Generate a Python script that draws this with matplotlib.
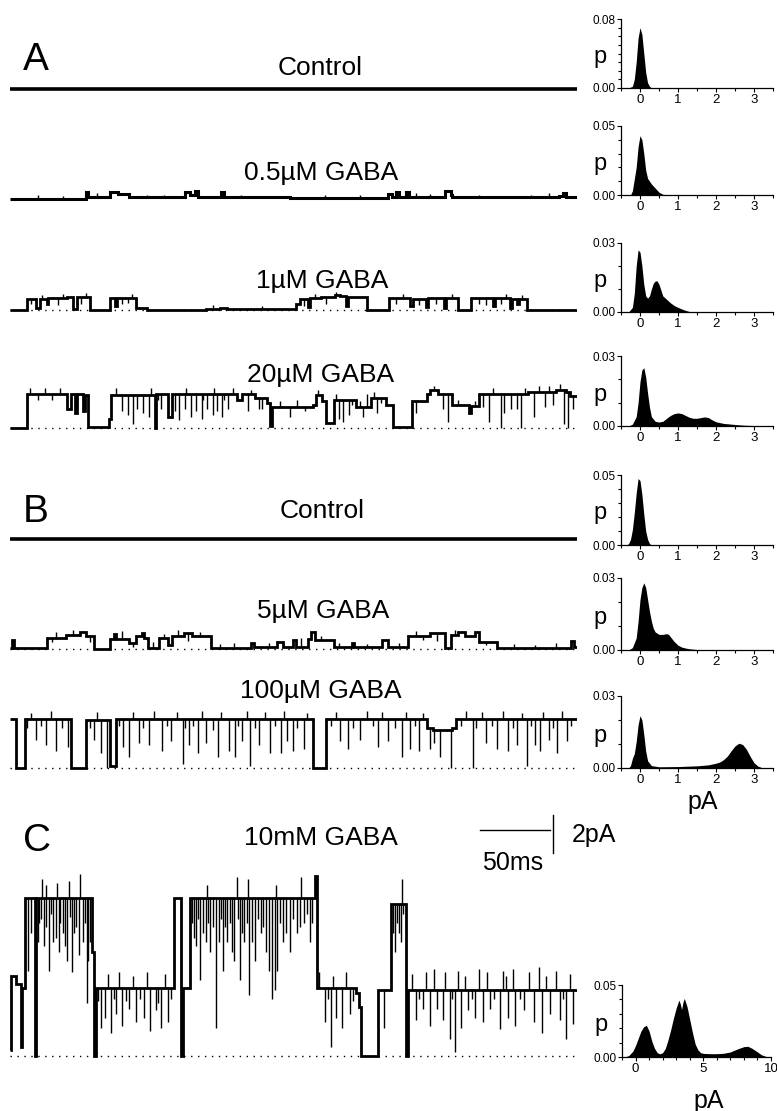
import numpy as np
import matplotlib
matplotlib.use("Agg")
import matplotlib.pyplot as plt
from matplotlib.ticker import MultipleLocator

plt.rcParams['font.family'] = ['Liberation Sans', 'DejaVu Sans']

W, H = 777, 1111
PX_PA = 19.0      # pixels per pA in the trace panels
T_END = 405.0     # ms shown in every trace

# ---- traces: (start ms, level pA) steps, and brief events (ms, pA) ----
ctrl_a_steps = [(0, 0.0)]

gaba05_steps = [(0, 0.02), (54, 0.35), (55.5, 0.08), (71.7, 0.35), (77, 0.25), (85, 0.08),
                (124.8, 0.35), (128.8, 0.2), (132, 0.42), (134, 0.1), (151, 0.35), (152.5, 0.08),
                (200, 0.05), (270, 0.25), (273, 0.1), (276, 0.38), (278, 0.12), (283, 0.35),
                (285, 0.1), (310.8, 0.4), (314.7, 0.2), (316, 0.1), (360, 0.08), (392, 0.15),
                (395, 0.3), (397, 0.08)]
gaba05_events = [(20, 0.2), (38, 0.18), (62, 0.3), (98, 0.2), (110, 0.22), (165, 0.2),
                 (180, 0.18), (225, 0.2), (250, 0.22), (290, 0.3), (300, 0.25), (335, 0.2),
                 (372, 0.22), (385, 0.3)]

gaba1_steps = [(0, 0.0), (12, 0.6), (18.6, 0.1), (21.2, 0.6), (26.2, 0.3), (27, 0.62), (41, 0.68),
               (45.2, 0.05), (47.8, 0.7), (57.1, 0.0), (71.7, 0.62), (75.2, 0.2), (76.2, 0.65),
               (90.3, 0.08), (98, 0.0), (140, 0.05), (150, 0.1), (155, 0.03), (204.5, 0.3),
               (207, 0.6), (213, 0.15), (214.5, 0.62), (222, 0.68), (232, 0.8), (236, 0.72),
               (240, 0.2), (241.7, 0.7), (255, 0.0), (270.9, 0.62), (286, 0.2), (287.5, 0.6),
               (297, 0.15), (298.5, 0.65), (310, 0.1), (311.5, 0.65), (320, 0.0), (329.3, 0.62),
               (345, 0.2), (346.5, 0.62), (357, 0.1), (358.5, 0.6), (362, 0.3), (363.3, 0.6),
               (369.2, 0.0)]
gaba1_events = [(15, 0.3), (23, 0.8), (34, 0.25), (38, 0.85), (51, 0.3), (54, 0.9), (80, 0.3),
                (84, 0.35), (87, 0.85), (145, 0.25), (180, 0.2), (210, 0.2), (218, 0.85),
                (226, 0.3), (233, 0.95), (276, 0.3), (281, 0.85), (292, 0.25), (304, 0.3),
                (316, 0.85), (335, 0.3), (340, 0.25), (351, 0.3), (354, 0.85), (366, 0.8)]

gaba20_steps = [(0, 0.0), (12, 1.8), (41, 1.0), (43.8, 1.8), (46.5, 0.8), (47.5, 1.8), (51.8, 0.9),
                (53.7, 1.75), (55.8, 0.05), (70.4, 0.5), (72, 1.75), (103.6, 0.0), (104.5, 1.8),
                (112.9, 0.6), (115.5, 1.8), (162, 1.5), (166, 1.8), (175, 1.6), (183.3, 1.3),
                (186, 0.1), (187.2, 1.1), (216.5, 1.2), (218.5, 1.75), (223, 1.4), (225.8, 0.25),
                (231.1, 1.5), (247, 1.1), (257.6, 1.6), (268.3, 1.2), (273.6, 0.05), (286.8, 1.4),
                (297.5, 1.8), (300.1, 2.0), (305.4, 1.8), (316, 1.2), (328, 0.8), (329.5, 1.15),
                (334.7, 1.8), (370, 1.9), (390, 2.0), (397, 1.9), (399.7, 1.7)]
gaba20_events = [(80, 0.9), (84, 0.7), (87.6, 0.2), (91, 1.0), (95, 0.8), (99, 0.6), (108, 1.0),
                 (118, 0.9), (121, 0.4), (124.8, 1.0), (129, 0.6), (132.8, 0.9), (136.8, 0.5),
                 (141, 1.0), (144.8, 0.7), (148, 0.9), (151.4, 0.6), (156, 1.0), (170, 0.9),
                 (178, 1.0), (200, 0.6), (235, 0.5), (238, 0.3), (242, 0.7), (252, 0.6),
                 (262, 0.8), (290, 0.8), (309, 1.0), (313, 0.3), (338, 1.1), (342, 0.3),
                 (350.6, 0.0), (353, 0.8), (358, 1.0), (362, 1.0), (365.2, 0.0), (374.5, 0.6),
                 (382, 1.1), (388, 1.2), (396, 0.2), (398.4, 0.0), (402, 1.0),
                 (14, 2.1), (20, 1.5), (25, 2.1), (30, 1.5), (36, 2.1), (76, 2.1), (101, 2.1),
                 (106, 1.5), (126, 2.1), (138, 1.5), (146, 2.1), (153, 1.5), (159, 2.1),
                 (172, 2.0), (180, 1.0), (193, 1.4), (205, 1.45), (211, 0.9), (220, 2.0),
                 (233, 1.8), (244, 1.2), (250, 1.4), (255, 1.8), (260, 1.9), (265, 1.3),
                 (303, 2.2), (320, 1.5), (332, 1.4), (345, 2.1), (368, 2.1), (378, 2.2),
                 (385, 2.2), (393, 2.3)]

ctrl_b_steps = [(0, 0.0)]

gaba5_steps = [(0, 0.05), (1.3, 0.45), (2.5, 0.05), (26.6, 0.6), (40, 0.75), (50, 0.9), (54, 0.7),
               (59.8, 0.0), (71.7, 0.55), (74, 0.8), (76, 0.55), (85, 0.3), (90.3, 0.7),
               (94.3, 0.85), (96, 0.6), (98.3, 0.05), (106.2, 0.6), (112.9, 0.2), (116, 0.7),
               (124, 0.85), (130, 0.7), (143.4, 0.05), (172, 0.3), (174, 0.08), (191, 0.35),
               (195, 0.1), (201.9, 0.45), (204, 0.1), (212.5, 0.55), (215.1, 0.9), (218, 0.5),
               (231.1, 0.1), (244.4, 0.3), (246, 0.08), (265.6, 0.5), (270, 0.1), (284.2, 0.7),
               (300, 0.85), (310.8, 0.05), (314.7, 0.75), (320, 0.9), (325, 0.7), (332, 0.9),
               (334.7, 0.35), (347.9, 0.05), (401, 0.4), (403, 0.1)]
gaba5_events = [(33, 0.9), (45, 1.0), (80, 0.95), (110, 0.8), (120, 1.0), (136, 0.9), (160, 0.3),
                (185, 0.3), (208, 0.6), (222, 0.7), (290, 0.95), (305, 0.4), (318, 1.0),
                (30, 0.35), (57, 0.35), (88, 0.1), (102, 0.35), (127, 0.4), (150, 0.25),
                (235, 0.3), (255, 0.25), (278, 0.3), (295, 0.45), (340, 0.2), (360, 0.25),
                (375, 0.2), (390, 0.3)]

gaba100_steps = [(0, 2.6), (4, 0.0), (10.6, 2.6), (43.8, 0.0), (54.5, 2.55), (71.7, 0.1), (76, 2.6),
                 (216.5, 0.0), (225.8, 2.6), (297.5, 2.1), (302, 2.0), (316, 2.1), (318.7, 2.6)]
gaba100_events = [(18.6, 1.5), (26, 1.2), (33, 0.9), (41.2, 1.1), (60, 1.5), (65, 0.8), (69, 0.0),
                  (81, 1.1), (85, 0.6), (92, 1.3), (99.6, 1.2), (108.9, 0.9), (115, 1.4),
                  (123.5, 0.2), (128, 1.2), (134.1, 0.8), (140, 1.3), (148.7, 0.6), (156.7, 0.9),
                  (160.7, 0.6), (166, 1.4), (171.3, 0.1), (178, 1.2), (185.9, 0.8), (193.9, 0.8),
                  (198, 1.4), (201.9, 0.9), (209.8, 1.0), (236, 1.4), (241.7, 1.0), (250, 1.5),
                  (262.9, 1.1), (270, 1.4), (280.2, 0.6), (286, 1.0), (292.2, 0.9), (300, 1.0),
                  (302.8, 1.3), (307, 0.6), (314.7, 0.0), (330.7, 0.0), (340, 1.3),
                  (348, 1.0), (355.9, 0.9), (362, 1.2), (369.2, 0.1), (375, 1.2), (378.5, 0.9),
                  (385, 1.5), (390.4, 0.8), (398, 1.4),
                  (12, 2.1), (15, 2.9), (22, 2.2), (29, 3.0), (37, 2.1), (57, 2.1), (62, 2.95),
                  (78, 2.2), (88, 2.95), (95, 2.1), (103, 3.0), (112, 2.2), (119, 2.95),
                  (125, 2.1), (131, 2.2), (137, 3.0), (145, 2.0), (151, 2.95), (163, 2.2),
                  (169, 3.0), (175, 2.1), (182, 2.95), (189, 2.2), (196, 3.0), (205, 2.1),
                  (212, 2.9), (229, 2.2), (233, 2.95), (245, 2.1), (255, 3.0), (259, 2.2),
                  (266, 2.95), (275, 2.1), (283, 2.95), (289, 2.2), (295, 2.9), (322, 2.2),
                  (326, 3.0), (333, 2.1), (337, 2.95), (344, 2.2), (352, 3.0), (359, 2.1),
                  (366, 2.9), (372, 2.2), (381, 2.95), (388, 2.1), (394, 3.0), (401, 2.2)]

gaba10m_steps = [(0, 0.3), (0.8, 4.2), (4, 3.8), (7.5, 0.5), (8.5, 3.6), (10.6, 8.3), (18.2, 0.0),
                 (18.9, 8.3), (58.4, 5.5), (60, 0.0), (61.1, 3.6), (116.9, 8.3), (122, 0.0),
                 (123.5, 3.6), (128.8, 8.3), (217.8, 9.5), (219.1, 3.6), (247, 3.3), (249, 2.6),
                 (251, 0.0), (262.9, 3.5), (272.2, 8.0), (282.5, 0.0), (284.2, 3.5)]
gaba10m_events = [(13, 4.5), (15, 6.5), (21, 7.0), (23, 9.3), (24, 5.8), (28, 4.5), (31, 6.0),
                  (35, 5.5), (38, 6.5), (41, 5.0), (44, 4.4), (47, 6.8), (49, 5.3), (50, 9.6),
                  (52, 6.0), (55, 2.8), (57, 6.0), (133, 5.8), (136, 4.0), (140, 6.0), (143, 5.5),
                  (147.4, 1.5), (152, 4.5), (155, 6.0), (160, 5.0), (162, 9.4), (164, 4.0),
                  (167, 6.0), (171, 3.2), (175, 5.0), (179, 6.5), (183, 5.5), (187, 3.0),
                  (189, 3.5), (191, 4.5), (195, 6.0), (200, 5.5), (205, 6.5), (210, 7.0),
                  (214, 6.0), (275, 5.5), (278, 6.5), (280, 9.3),
                  (20, 6.0), (22, 7.2), (26, 6.8), (29, 7.5), (33, 6.2), (36, 7.0), (39, 5.8),
                  (43, 7.3), (45.5, 6.5), (53.5, 7.0), (56, 5.0), (25.5, 9.0), (33.5, 9.1),
                  (42, 9.2), (130, 7.0), (131.5, 6.2), (134.5, 7.2), (138, 6.5), (141.5, 7.0),
                  (145, 6.8), (149, 6.0), (150.5, 7.2), (153.5, 6.8), (157, 7.0), (158.5, 5.5),
                  (163, 7.2), (165.5, 6.5), (169, 7.0), (173, 6.0), (177, 7.2), (181, 6.8),
                  (185, 4.5), (193, 7.0), (197, 6.5), (202, 7.2), (207, 6.8), (212, 7.5),
                  (216, 7.0), (140.5, 9.0), (170, 9.3), (190, 9.0), (208, 9.4), (273.5, 6.5),
                  (276.5, 7.0), (279, 6.0), (281, 7.5),
                  (65, 1.5), (68, 2.0), (72, 1.2), (76, 2.2), (80, 1.6), (85, 2.5), (90, 1.8),
                  (96, 2.0), (100, 1.3), (104, 2.4), (108, 1.5), (113, 1.8), (225, 1.8),
                  (229, 0.5), (233, 2.0), (237, 1.5), (243, 2.2), (267, 1.5), (290, 1.9),
                  (295, 2.5), (300, 1.6), (305, 2.5), (309, 1.9), (314, 0.9), (318, 0.2),
                  (322, 1.5), (327, 2.4), (332, 2.0), (338, 1.8), (343, 2.5), (350, 1.4),
                  (356, 2.0), (361, 1.6), (367, 2.4), (374, 1.8), (380, 1.2), (386, 2.2),
                  (393, 1.9), (397, 0.9), (402, 1.7), (335, 4.6), (352, 4.5), (378, 4.7),
                  (63, 2.9), (70, 4.3), (74, 3.0), (78, 4.4), (83, 2.9), (88, 4.2), (93, 3.0),
                  (98, 4.4), (106, 2.8), (111, 4.3), (115, 3.0), (221, 4.4), (227, 3.0),
                  (231, 4.2), (240, 4.4), (245, 2.9), (287, 4.3), (292, 3.0), (297, 4.4),
                  (303, 4.6), (311, 4.4), (316, 3.0), (320, 4.5), (325, 4.2), (330, 3.0),
                  (341, 4.4), (346, 3.0), (354, 4.2), (359, 4.6), (364, 3.0), (371, 4.4),
                  (383, 4.2), (390, 4.5), (395, 3.0), (400, 4.3)]

# ---- amplitude histograms (pA, probability) ----
h_ctrl_a_x = [-0.3, -0.2, -0.15, -0.1, -0.05, 0, 0.05, 0.1, 0.15, 0.2, 0.25, 0.3]
h_ctrl_a_p = [0, 0.002, 0.01, 0.03, 0.058, 0.07, 0.062, 0.04, 0.018, 0.006, 0.002, 0]

h_05_x = [-0.25, -0.2, -0.1, -0.05, 0, 0.05, 0.1, 0.15, 0.2, 0.3, 0.4, 0.5, 0.6, 0.8]
h_05_p = [0, 0.003, 0.02, 0.035, 0.043, 0.04, 0.03, 0.018, 0.012, 0.008, 0.005, 0.002, 0.0005, 0]

h_1_x = [-0.3, -0.2, -0.15, -0.1, -0.05, 0, 0.05, 0.1, 0.15, 0.2, 0.25, 0.3, 0.35, 0.4, 0.45,
         0.5, 0.55, 0.6, 0.7, 0.8, 0.9, 1.0, 1.1, 1.2, 1.3, 1.4]
h_1_p = [0, 0.002, 0.008, 0.02, 0.027, 0.026, 0.02, 0.012, 0.007, 0.006, 0.007, 0.01, 0.0125,
         0.0135, 0.0135, 0.012, 0.0095, 0.007, 0.0055, 0.004, 0.0028, 0.002, 0.0013, 0.0007,
         0.0002, 0]

h_20_x = [-0.3, -0.2, -0.1, -0.05, 0, 0.05, 0.1, 0.15, 0.2, 0.25, 0.3, 0.4, 0.5, 0.6, 0.7, 0.8,
          0.9, 1.0, 1.1, 1.2, 1.3, 1.4, 1.5, 1.6, 1.7, 1.8, 1.9, 2.0, 2.2, 2.4, 2.6, 2.8, 3.0, 3.2]
h_20_p = [0, 0.0008, 0.004, 0.01, 0.019, 0.024, 0.025, 0.021, 0.014, 0.008, 0.004, 0.002,
          0.0017, 0.002, 0.0033, 0.0045, 0.0053, 0.0056, 0.0053, 0.0045, 0.0037, 0.0033, 0.0033,
          0.0036, 0.0039, 0.0036, 0.0026, 0.0018, 0.0011, 0.0008, 0.0005, 0.0003, 0.0002, 0]

h_ctrl_b_x = [-0.35, -0.3, -0.25, -0.2, -0.15, -0.1, -0.05, 0, 0.05, 0.1, 0.15, 0.2, 0.25, 0.3]
h_ctrl_b_p = [0, 0.001, 0.004, 0.011, 0.023, 0.037, 0.0475, 0.046, 0.036, 0.022, 0.01, 0.004,
              0.001, 0]

h_5_x = [-0.3, -0.2, -0.1, -0.05, 0, 0.05, 0.1, 0.15, 0.2, 0.25, 0.3, 0.35, 0.4, 0.5, 0.6, 0.7,
         0.75, 0.8, 0.9, 1.0, 1.1, 1.2, 1.3, 1.5, 1.6]
h_5_p = [0, 0.001, 0.005, 0.012, 0.021, 0.026, 0.028, 0.026, 0.021, 0.016, 0.012, 0.009, 0.0075,
         0.0065, 0.0065, 0.0068, 0.0065, 0.0055, 0.0035, 0.002, 0.0012, 0.0008, 0.0005, 0.0002, 0]

h_100_x = [-0.3, -0.25, -0.2, -0.15, -0.1, -0.05, 0, 0.05, 0.1, 0.15, 0.2, 0.3, 0.5, 1.0, 1.5,
           1.8, 2.0, 2.1, 2.2, 2.3, 2.4, 2.5, 2.6, 2.7, 2.8, 2.9, 3.0, 3.1, 3.2, 3.3]
h_100_p = [0, 0.001, 0.004, 0.006, 0.011, 0.018, 0.0218, 0.02, 0.014, 0.007, 0.003, 0.001,
           0.0005, 0.0006, 0.0009, 0.0013, 0.002, 0.0025, 0.0035, 0.005, 0.0072, 0.0092, 0.0103,
           0.0098, 0.0078, 0.0048, 0.0022, 0.0008, 0.0002, 0]

h_10m_x = [-0.8, -0.5, -0.2, 0, 0.2, 0.4, 0.6, 0.8, 1.0, 1.2, 1.4, 1.6, 1.8, 2.0, 2.2, 2.4, 2.6,
           2.8, 3.0, 3.2, 3.3, 3.4, 3.5, 3.6, 3.8, 4.0, 4.2, 4.4, 4.6, 4.8, 5.0, 5.5, 6.0, 6.5,
           7.0, 7.5, 8.0, 8.3, 8.6, 9.0, 9.3, 9.6, 9.8]
h_10m_p = [0, 0.001, 0.004, 0.008, 0.013, 0.018, 0.021, 0.022, 0.018, 0.011, 0.006, 0.003,
           0.0022, 0.003, 0.006, 0.012, 0.019, 0.027, 0.034, 0.0395, 0.037, 0.033, 0.038, 0.0407,
           0.035, 0.026, 0.017, 0.009, 0.005, 0.003, 0.0025, 0.0023, 0.0023, 0.0026, 0.0035,
           0.0055, 0.0072, 0.0074, 0.006, 0.0035, 0.0015, 0.0005, 0]


def box(x0, y0, x1, y1):
    return [x0 / W, 1 - y1 / H, (x1 - x0) / W, (y1 - y0) / H]


def add_trace(fig, yb, steps, events=(), above=60, below=10, lw=2.0, dotted=True):
    ax = fig.add_axes(box(10, yb - above, 577, yb + below))
    ax.set_xlim(0, T_END)
    ax.set_ylim(-below / PX_PA, above / PX_PA)
    ax.axis('off')
    edges = [s[0] for s in steps] + [T_END]
    vals = np.array([s[1] for s in steps])
    if dotted:
        ax.plot([0, T_END], [0, 0], ls=(0, (1, 4)), color='k', lw=1)
    ax.stairs(vals, edges, baseline=None, color='k', lw=lw)
    if len(events):
        et = np.array([e[0] for e in events])
        ev = np.array([e[1] for e in events])
        lev = vals[np.searchsorted(edges, et, side='right') - 1]
        ax.vlines(et, ev, lev, color='k', lw=1.0)
    return ax


def add_hist(fig, px, x, p, ytop, xlim=(-0.5, 3.5), xticks=(0, 1, 2, 3), xminor=0.5):
    ax = fig.add_axes(box(*px))
    ax.fill_between(x, p, 0, color='k', lw=0)
    ax.set_xlim(*xlim)
    ax.set_ylim(0, ytop)
    ax.spines['top'].set_visible(False)
    ax.spines['right'].set_visible(False)
    for s in ('left', 'bottom'):
        ax.spines[s].set_linewidth(0.9)
    ax.set_yticks([0, ytop])
    ax.set_yticklabels(['0.00', '%.2f' % ytop])
    ax.yaxis.set_minor_locator(MultipleLocator(0.01))
    ax.set_xticks(list(xticks))
    ax.set_xticklabels([str(t) for t in xticks])
    ax.xaxis.set_minor_locator(MultipleLocator(xminor))
    ax.tick_params(which='both', direction='out', width=0.8, pad=1)
    ax.tick_params(axis='y', labelsize=8.5)
    ax.tick_params(axis='x', labelsize=9.5)
    ax.tick_params(which='major', length=3)
    ax.tick_params(which='minor', length=2)
    ax.text(-0.14, 0.45, 'p', transform=ax.transAxes, fontsize=17, ha='center', va='center')
    return ax


def label(fig, x, y, s, size=19, ha='center'):
    fig.text(x / W, 1 - y / H, s, fontsize=size, ha=ha, va='baseline')


def main():
    fig = plt.figure(figsize=(W / 100, H / 100), dpi=100)

    add_trace(fig, 89, ctrl_a_steps, lw=2.6, dotted=False)
    add_trace(fig, 199, gaba05_steps, gaba05_events, lw=2.2, dotted=False)
    add_trace(fig, 310, gaba1_steps, gaba1_events)
    add_trace(fig, 428, gaba20_steps, gaba20_events)
    add_trace(fig, 539, ctrl_b_steps, lw=2.6, dotted=False)
    add_trace(fig, 649, gaba5_steps, gaba5_events)
    add_trace(fig, 768, gaba100_steps, gaba100_events)
    ax_c = add_trace(fig, 1056, gaba10m_steps, gaba10m_events, above=250)

    # scale bar: 50 ms x 2 pA
    ax_c.plot([336, 386], [11.9, 11.9], color='k', lw=1)
    ax_c.plot([388, 388], [10.68, 12.68], color='k', lw=1)

    label(fig, 36, 70, 'A', size=28)
    label(fig, 36, 522, 'B', size=28)
    label(fig, 37, 851, 'C', size=28)
    label(fig, 320, 75, 'Control')
    label(fig, 321, 180, '0.5µM GABA')
    label(fig, 322, 288, '1µM GABA')
    label(fig, 321, 382, '20µM GABA')
    label(fig, 322, 518, 'Control')
    label(fig, 323, 618, '5µM GABA')
    label(fig, 321, 698, '100µM GABA')
    label(fig, 321, 845, '10mM GABA')
    label(fig, 572, 842, '2pA', size=18, ha='left')
    label(fig, 513, 870, '50ms', size=18)
    label(fig, 703, 809, 'pA', size=18)
    label(fig, 709, 1108, 'pA', size=18)

    add_hist(fig, (621, 19, 773, 88), h_ctrl_a_x, h_ctrl_a_p, 0.08)
    add_hist(fig, (621, 126, 773, 195), h_05_x, h_05_p, 0.05)
    add_hist(fig, (621, 243, 773, 312), h_1_x, h_1_p, 0.03)
    add_hist(fig, (621, 356, 773, 426), h_20_x, h_20_p, 0.03)
    add_hist(fig, (621, 475, 773, 545), h_ctrl_b_x, h_ctrl_b_p, 0.05)
    add_hist(fig, (621, 578, 773, 650), h_5_x, h_5_p, 0.03)
    add_hist(fig, (621, 696, 773, 768), h_100_x, h_100_p, 0.03)
    add_hist(fig, (622, 985, 771, 1057), h_10m_x, h_10m_p, 0.05,
             xlim=(-1, 10), xticks=(0, 5, 10), xminor=1)

    fig.savefig('out.png', dpi=100)


if __name__ == '__main__':
    main()
